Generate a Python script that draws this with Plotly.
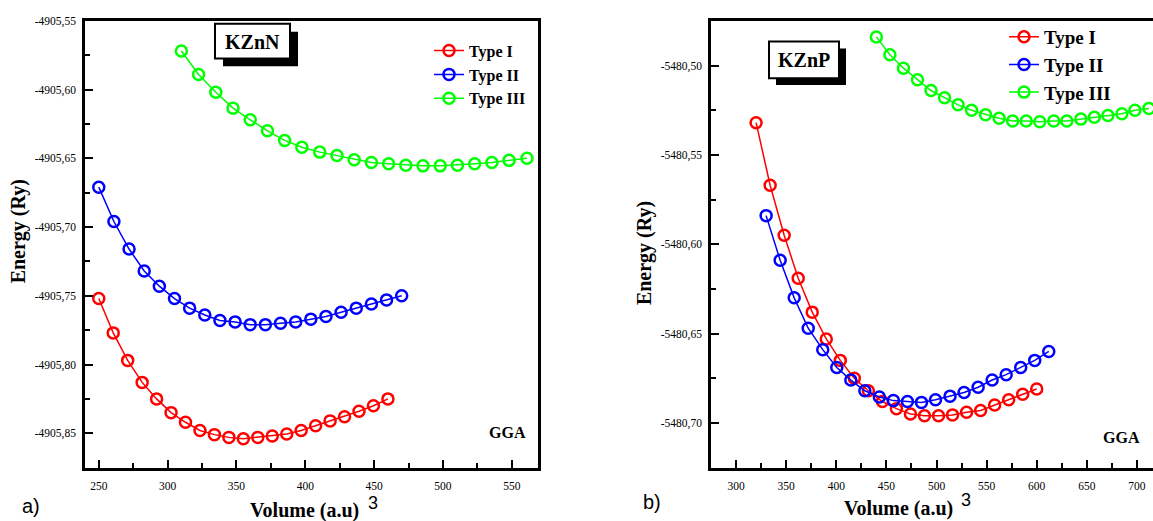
import plotly.graph_objects as go

# ---------------- data ----------------
kznn_vol_type1 = [250, 260.5, 271, 281.5, 292, 302.5, 313, 323.5, 334, 344.5, 355, 365.5, 376, 386.5, 397, 407.5, 418, 428.5, 439, 449.5, 460]
kznn_e_type1 = [-4905.752, -4905.777, -4905.797, -4905.813, -4905.825, -4905.835, -4905.842, -4905.848, -4905.851, -4905.853,
                -4905.854, -4905.853, -4905.852, -4905.8505, -4905.848, -4905.8445, -4905.841, -4905.838, -4905.834, -4905.830, -4905.825]

kznn_vol_type2 = [250, 261, 272, 283, 294, 305, 316, 327, 338, 349, 360, 371, 382, 393, 404, 415, 426, 437, 448, 459, 470]
kznn_e_type2 = [-4905.671, -4905.696, -4905.716, -4905.732, -4905.743, -4905.752, -4905.759, -4905.764, -4905.768, -4905.769,
                -4905.771, -4905.771, -4905.770, -4905.769, -4905.767, -4905.765, -4905.762, -4905.759, -4905.756, -4905.753, -4905.750]

kznn_vol_type3 = [310, 322.5, 335, 347.5, 360, 372.5, 385, 397.5, 410.5, 423, 435.5, 448, 460.5, 473, 485.5, 498, 510.5, 523, 535.5, 548, 561]
kznn_e_type3 = [-4905.572, -4905.589, -4905.602, -4905.6135, -4905.622, -4905.630, -4905.637, -4905.642, -4905.6455, -4905.648,
                -4905.651, -4905.653, -4905.654, -4905.655, -4905.6555, -4905.6555, -4905.655, -4905.654, -4905.653, -4905.6515, -4905.650]

kznp_vol_type1 = [320, 334, 348, 362, 376, 390, 404, 418, 432, 446, 460, 474, 488, 502, 516, 530, 544, 558, 572, 586, 600]
kznp_e_type1 = [-5480.532, -5480.567, -5480.595, -5480.619, -5480.638, -5480.653, -5480.665, -5480.675, -5480.682, -5480.688,
                -5480.692, -5480.695, -5480.696, -5480.696, -5480.6955, -5480.694, -5480.693, -5480.690, -5480.687, -5480.684, -5480.681]

kznp_vol_type2 = [330, 344, 358, 372, 386.5, 400.5, 414.5, 428.5, 443, 457, 471, 485, 499, 513.5, 527.5, 541.5, 555.5, 569.5, 584, 598, 612]
kznp_e_type2 = [-5480.584, -5480.609, -5480.630, -5480.647, -5480.659, -5480.669, -5480.676, -5480.682, -5480.6855, -5480.6875,
                -5480.688, -5480.6885, -5480.687, -5480.685, -5480.683, -5480.680, -5480.676, -5480.673, -5480.669, -5480.665, -5480.660]

kznp_vol_type3 = [440, 453.5, 467, 481, 494.5, 508, 521.5, 535, 549, 562.5, 576, 589.5, 603, 617, 630, 644, 657.5, 671, 685, 698, 712]
kznp_e_type3 = [-5480.484, -5480.494, -5480.5015, -5480.508, -5480.514, -5480.518, -5480.522, -5480.525, -5480.5275, -5480.5295,
                -5480.531, -5480.531, -5480.5315, -5480.531, -5480.531, -5480.530, -5480.529, -5480.528, -5480.527, -5480.525, -5480.524]

series_names = ["Type I", "Type II", "Type III"]

# tick labels
kznn_x_ticks = [250, 300, 350, 400, 450, 500, 550]
kznn_x_minor = [275, 325, 375, 425, 475, 525]
kznn_y_ticks = [-4905.55, -4905.60, -4905.65, -4905.70, -4905.75, -4905.80, -4905.85]
kznn_y_labels = ["-4905,55", "-4905,60", "-4905,65", "-4905,70", "-4905,75", "-4905,80", "-4905,85"]
kznn_y_minor = [-4905.575, -4905.625, -4905.675, -4905.725, -4905.775, -4905.825]

kznp_x_ticks = [300, 350, 400, 450, 500, 550, 600, 650, 700]
kznp_x_minor = [325, 375, 425, 475, 525, 575, 625, 675]
kznp_y_ticks = [-5480.50, -5480.55, -5480.60, -5480.65, -5480.70]
kznp_y_labels = ["-5480,50", "-5480,55", "-5480,60", "-5480,65", "-5480,70"]
kznp_y_minor = [-5480.525, -5480.575, -5480.625, -5480.675]

# ---------------- figure ----------------
W, H = 1153, 521
colors = ["#ff0000", "#0000ff", "#00ff00"]
SERIF = "Liberation Serif"
SANS = "Liberation Sans"


def px(x):
    return x / W


def py(y):
    return 1 - y / H


fig = go.Figure()

left_sets = [(kznn_vol_type1, kznn_e_type1), (kznn_vol_type2, kznn_e_type2), (kznn_vol_type3, kznn_e_type3)]
right_sets = [(kznp_vol_type1, kznp_e_type1), (kznp_vol_type2, kznp_e_type2), (kznp_vol_type3, kznp_e_type3)]

for i, (xs, ys) in enumerate(left_sets):
    fig.add_trace(go.Scatter(
        x=xs, y=ys, name=series_names[i], mode="lines+markers",
        line=dict(color=colors[i], width=1.5),
        marker=dict(symbol="circle-open", size=11, color=colors[i], line=dict(width=2.5, color=colors[i])),
        xaxis="x", yaxis="y", legend="legend"))

for i, (xs, ys) in enumerate(right_sets):
    fig.add_trace(go.Scatter(
        x=xs, y=ys, name=series_names[i], mode="lines+markers",
        line=dict(color=colors[i], width=1.5),
        marker=dict(symbol="circle-open", size=11, color=colors[i], line=dict(width=2.5, color=colors[i])),
        xaxis="x2", yaxis="y2", legend="legend2"))

tickfont = dict(family=SERIF, size=11.5, color="black")


def xaxis_cfg(domain, rng, ticks, minor, anchor, mirror=True):
    return dict(domain=domain, range=rng, anchor=anchor, tickmode="array", tickvals=ticks,
                ticktext=[str(t) for t in ticks], ticks="inside", ticklen=8, tickwidth=2, tickcolor="black",
                minor=dict(tickmode="array", tickvals=minor, ticks="inside", ticklen=5, tickwidth=2, tickcolor="black"),
                showline=True, linecolor="black", linewidth=2.5, mirror=mirror, showgrid=False, zeroline=False,
                tickfont=tickfont, ticklabelstandoff=6)


def yaxis_cfg(domain, rng, ticks, labels, minor, anchor, mirror=True):
    return dict(domain=domain, range=rng, anchor=anchor, tickmode="array", tickvals=ticks, ticktext=labels,
                ticks="inside", ticklen=8, tickwidth=2, tickcolor="black",
                minor=dict(tickmode="array", tickvals=minor, ticks="inside", ticklen=5, tickwidth=2, tickcolor="black"),
                showline=True, linecolor="black", linewidth=2.5, mirror=mirror, showgrid=False, zeroline=False,
                tickfont=tickfont, ticklabelstandoff=4)


ydom = [py(467), py(15)]
legend_font_l = dict(family=SERIF, size=16, color="black", weight="bold")
legend_font_r = dict(family=SERIF, size=19, color="black", weight="bold")

fig.update_layout(
    width=W, height=H, margin=dict(l=0, r=0, t=0, b=0),
    paper_bgcolor="white", plot_bgcolor="white",
    xaxis=xaxis_cfg([px(85), px(538)], [240, 569], kznn_x_ticks, kznn_x_minor, "y"),
    yaxis=yaxis_cfg(ydom, [-4905.875, -4905.55], kznn_y_ticks, kznn_y_labels, kznn_y_minor, "x"),
    xaxis2=xaxis_cfg([px(711), 1.0], [275, 716], kznp_x_ticks, kznp_x_minor, "y2"),
    yaxis2=yaxis_cfg(ydom, [-5480.725, -5480.475], kznp_y_ticks, kznp_y_labels, kznp_y_minor, "x2", mirror=False),
    legend=dict(x=px(429), y=py(28), xanchor="left", yanchor="top", bgcolor="rgba(0,0,0,0)",
                font=legend_font_l, itemwidth=30, tracegroupgap=0),
    legend2=dict(x=px(1004), y=py(12), xanchor="left", yanchor="top", bgcolor="rgba(0,0,0,0)",
                 font=legend_font_r, itemwidth=30, tracegroupgap=0),
    showlegend=True,
)

# title boxes with drop shadow
shapes = []
for (bx0, by0, bx1, by1, off) in [(215, 18, 290, 53, 8), (769, 36, 839, 73, 7)]:
    shapes.append(dict(type="rect", xref="paper", yref="paper",
                       x0=px(bx0 + off), x1=px(bx1 + off), y0=py(by1 + off), y1=py(by0 + off),
                       fillcolor="black", line=dict(width=0), layer="above"))
    shapes.append(dict(type="rect", xref="paper", yref="paper",
                       x0=px(bx0), x1=px(bx1), y0=py(by1), y1=py(by0),
                       fillcolor="white", line=dict(width=2, color="black"), layer="above"))
fig.update_layout(shapes=shapes)

ann = []


def add_text(text, x, y, size, family=SERIF, angle=0):
    ann.append(dict(text=text, x=px(x), y=py(y), xref="paper", yref="paper", showarrow=False,
                    xanchor="center", yanchor="middle", textangle=angle,
                    font=dict(family=family, size=size, color="black")))


add_text("<b>KZnN</b>", 252.5, 36, 20)
add_text("<b>KZnP</b>", 804, 55, 20)
add_text("<b>GGA</b>", 507.5, 431, 16)
add_text("<b>GGA</b>", 1121, 437, 16)
add_text("<b>Energy (Ry)</b>", 18, 228, 20, angle=-90)
add_text("<b>Energy (Ry)</b>", 644, 250, 20, angle=-90)
add_text("<b>Volume (a.u)</b>", 304, 510, 20)
add_text("<b>Volume (a.u)</b>", 898.5, 508, 20)
add_text("3", 373, 503, 18, family=SANS)
add_text("3", 966, 500, 18, family=SANS)
add_text("a)", 31, 506, 20, family=SANS)
add_text("b)", 652, 502, 20, family=SANS)
fig.update_layout(annotations=ann)

fig.write_html("out.html")
